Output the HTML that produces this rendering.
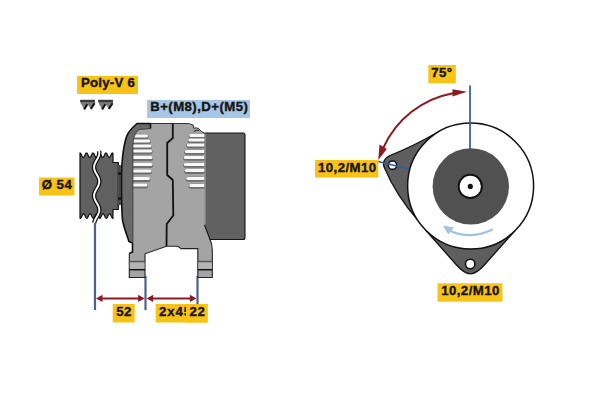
<!DOCTYPE html>
<html><head><meta charset="utf-8">
<style>
html,body{margin:0;padding:0;background:#fff;width:600px;height:400px;overflow:hidden}
svg{display:block}
text{font-family:"Liberation Sans",sans-serif;font-weight:bold;fill:#1a1410;stroke:#1a1410;stroke-width:0.4px;letter-spacing:0.45px}
</style></head><body>
<svg width="600" height="400" viewBox="0 0 600 400">
<!-- ========== LEFT: side view ========== -->
<!-- blue extension lines -->
<g stroke="#4a6290" stroke-width="2.2" fill="none">
<line x1="95" y1="216" x2="95" y2="310"/>
<line x1="145.5" y1="276" x2="145.5" y2="310"/>
<line x1="197.5" y1="276" x2="197.5" y2="304"/>
</g>
<!-- pulley -->
<path d="M80.0,152.9 L80.5,153.2 L81.0,153.9 L81.5,154.9 L82.0,156.0 L82.5,156.9 L83.0,157.4 L83.5,157.4 L84.0,156.9 L84.5,156.0 L85.0,154.9 L85.5,153.9 L86.0,153.2 L86.5,152.9 L87.0,153.2 L87.5,153.9 L88.0,154.9 L88.5,156.0 L89.0,156.9 L89.5,157.4 L90.0,157.4 L90.5,156.9 L91.0,156.0 L91.5,154.9 L92.0,153.9 L92.5,153.2 L93.0,152.9 L93.5,153.2 L94.0,153.9 L94.5,154.9 L95.0,156.0 L95.5,156.9 L96.0,157.4 L96.5,157.4 L97.0,156.9 L97.5,156.0 L98.0,154.9 L98.5,153.9 L99.0,153.2 L99.5,152.9 L100.0,153.2 L100.5,153.9 L101.0,154.9 L101.5,156.0 L102.0,156.9 L102.5,157.4 L103.0,157.4 L103.5,156.9 L104.0,156.0 L104.5,154.9 L105.0,153.9 L105.5,153.2 L106.0,152.9 L106.5,153.2 L107.0,153.9 L107.5,154.9 L108.0,156.0 L108.5,156.9 L109.0,157.4 L109.5,157.4 L110.0,156.9 L110.5,156.0 L111.0,154.9 L111.5,153.9 L112.0,153.2 L112.5,152.9 L113.0,153.2 L113,162.5 L118.3,162.5 L118.3,209.5 L113,209.5 L113,217 L113.0,218.3 L112.5,218.2 L112.0,217.6 L111.5,216.7 L111.0,215.6 L110.5,214.6 L110.0,213.9 L109.5,213.7 L109.0,214.0 L108.5,214.8 L108.0,215.8 L107.5,216.9 L107.0,217.8 L106.5,218.3 L106.0,218.2 L105.5,217.6 L105.0,216.7 L104.5,215.6 L104.0,214.6 L103.5,213.9 L103.0,213.7 L102.5,214.0 L102.0,214.8 L101.5,215.8 L101.0,216.9 L100.5,217.8 L100.0,218.3 L99.5,218.2 L99.0,217.6 L98.5,216.7 L98.0,215.6 L97.5,214.6 L97.0,213.9 L96.5,213.7 L96.0,214.0 L95.5,214.8 L95.0,215.8 L94.5,216.9 L94.0,217.8 L93.5,218.3 L93.0,218.2 L92.5,217.6 L92.0,216.7 L91.5,215.6 L91.0,214.6 L90.5,213.9 L90.0,213.7 L89.5,214.0 L89.0,214.8 L88.5,215.8 L88.0,216.9 L87.5,217.8 L87.0,218.3 L86.5,218.2 L86.0,217.6 L85.5,216.7 L85.0,215.6 L84.5,214.6 L84.0,213.9 L83.5,213.7 L83.0,214.0 L82.5,214.8 L82.0,215.8 L81.5,216.9 L81.0,217.8 L80.5,218.3 L80.0,218.2 Z" fill="#606060" stroke="#111" stroke-width="1.2" stroke-linejoin="round"/>
<!-- shaft -->
<rect x="118.3" y="165" width="3.2" height="40" fill="#656565"/>
<line x1="119.8" y1="165" x2="119.8" y2="205" stroke="#2a2a2a" stroke-width="0.8"/>
<rect x="118" y="172.5" width="3.6" height="2.2" fill="#111"/>
<rect x="118" y="197.5" width="3.6" height="2.2" fill="#111"/>
<!-- housing main light body -->
<path d="M138,123.5 L188.6,123.5 L193.2,125 L193.6,128.2 Q196.5,127.2 198.8,128.8 L201.8,131.8 L204.5,133 L204.5,225 L210,239.5 Q212.3,244 212.3,250 L212.3,277.5 L197.8,277.5 L197.8,248.6 L181,248.6 L178,246.2 L166.5,246.2 L145,253.8 L145,277.5 L129.3,277.5 L129.3,253.5 L132.5,252 L132.5,243 L128.8,241.5 L132.5,130 Z" fill="#a4a4a4"/>
<path d="M150,123.5 L188.6,123.5 L193.2,125 L193.6,128.2 Q196.5,127.2 198.8,128.8 L201.8,131.8 L204.5,133" fill="none" stroke="#333" stroke-width="1"/>
<path d="M193.8,131.5 Q196,129.5 199,130.5" fill="none" stroke="#222" stroke-width="1"/>
<!-- right edge outline -->
<path d="M210,239.5 Q212.3,244 212.3,250 L212.3,277.5 L197.8,277.5 L197.8,248.6 L181,248.6 L178,246.2 L166.5,246.2 L145,253.8 L145,277.5 L129.3,277.5 L129.3,253.5" fill="none" stroke="#222" stroke-width="1.1"/>
<!-- vent slots front -->
<rect x="131" y="134.4" width="17.5" height="5" rx="2.5" fill="#6e6e6e"/><rect x="132" y="134.6" width="16.0" height="3" rx="1.5" fill="#f8f8f8"/>
<rect x="131" y="139.4" width="19.5" height="5" rx="2.5" fill="#6e6e6e"/><rect x="132" y="139.6" width="18.0" height="3" rx="1.5" fill="#f8f8f8"/>
<rect x="131" y="144.4" width="21.0" height="5" rx="2.5" fill="#6e6e6e"/><rect x="132" y="144.6" width="19.5" height="3" rx="1.5" fill="#f8f8f8"/>
<rect x="131" y="149.4" width="21.5" height="5" rx="2.5" fill="#6e6e6e"/><rect x="132" y="149.6" width="20.0" height="3" rx="1.5" fill="#f8f8f8"/>
<rect x="131" y="155.9" width="22.0" height="5" rx="2.5" fill="#6e6e6e"/><rect x="132" y="156.1" width="20.5" height="3" rx="1.5" fill="#f8f8f8"/>
<rect x="131" y="162.9" width="22.0" height="5" rx="2.5" fill="#6e6e6e"/><rect x="132" y="163.1" width="20.5" height="3" rx="1.5" fill="#f8f8f8"/>
<rect x="131" y="169.4" width="21.0" height="5" rx="2.5" fill="#6e6e6e"/><rect x="132" y="169.6" width="19.5" height="3" rx="1.5" fill="#f8f8f8"/>
<rect x="131" y="176.9" width="19.5" height="5" rx="2.5" fill="#6e6e6e"/><rect x="132" y="177.1" width="18.0" height="3" rx="1.5" fill="#f8f8f8"/>
<rect x="131" y="183.4" width="17.0" height="5" rx="2.5" fill="#6e6e6e"/><rect x="132" y="183.6" width="15.5" height="3" rx="1.5" fill="#f8f8f8"/>
<!-- vent slots rear -->
<rect x="188.7" y="133.9" width="16.3" height="5" rx="2.5" fill="#6e6e6e"/><rect x="189.3" y="134.1" width="16.3" height="3" rx="1.5" fill="#f8f8f8"/>
<rect x="187.7" y="138.4" width="17.3" height="5" rx="2.5" fill="#6e6e6e"/><rect x="188.3" y="138.6" width="17.3" height="3" rx="1.5" fill="#f8f8f8"/>
<rect x="186.2" y="143.4" width="18.8" height="5" rx="2.5" fill="#6e6e6e"/><rect x="186.8" y="143.6" width="18.8" height="3" rx="1.5" fill="#f8f8f8"/>
<rect x="184.2" y="149.7" width="20.8" height="5" rx="2.5" fill="#6e6e6e"/><rect x="184.8" y="149.9" width="20.8" height="3" rx="1.5" fill="#f8f8f8"/>
<rect x="183.2" y="155.8" width="21.8" height="5" rx="2.5" fill="#6e6e6e"/><rect x="183.8" y="156.0" width="21.8" height="3" rx="1.5" fill="#f8f8f8"/>
<rect x="183.2" y="162.8" width="21.8" height="5" rx="2.5" fill="#6e6e6e"/><rect x="183.8" y="163.0" width="21.8" height="3" rx="1.5" fill="#f8f8f8"/>
<rect x="184.2" y="168.9" width="20.8" height="5" rx="2.5" fill="#6e6e6e"/><rect x="184.8" y="169.1" width="20.8" height="3" rx="1.5" fill="#f8f8f8"/>
<rect x="185.7" y="176.8" width="19.3" height="5" rx="2.5" fill="#6e6e6e"/><rect x="186.3" y="177.0" width="19.3" height="3" rx="1.5" fill="#f8f8f8"/>
<rect x="188.7" y="183.8" width="16.3" height="5" rx="2.5" fill="#6e6e6e"/><rect x="189.3" y="184.0" width="16.3" height="3" rx="1.5" fill="#f8f8f8"/>
<!-- front band -->
<path d="M137,123.5 L150.5,123.5 L150.5,128.5 L139,129.5 C135,133 133,138 132.9,146 L132.9,242 L128.8,241.5 L128.5,240 C126,233 123.5,226 122.5,220 C121.7,212 121.5,205 121.5,180 C121.5,165 122.5,156 123.5,150 C124.3,145 125.5,138 128,133.5 C129.5,131 132,128 137,123.5 Z" fill="#6a6a6a"/>
<path d="M150.5,128.5 L139,129.5 C135,133 133,138 132.9,146 L132.9,242" fill="none" stroke="#3a3a3a" stroke-width="0.9"/>
<path d="M150.5,123.5 L150.5,128.5 M150.5,123.5 L137,123.5 C132,128 129.5,131 128,133.5 C125.5,138 124.3,145 123.5,150 C122.5,156 121.5,165 121.5,180 C121.5,205 121.7,212 122.5,220 C123.5,226 126,233 128.5,240 L128.8,241.5 L132.5,243 L132.5,252 L129.3,253.5" fill="none" stroke="#111" stroke-width="1.6"/>
<!-- divider line -->
<path d="M172.8,123.5 L172.8,138 L167.2,143 L167.2,175 L172.8,180 L173.3,215.5 L166.7,224 L166.5,246" fill="none" stroke="#111" stroke-width="1.8"/>
<!-- rear cover -->
<path d="M204.5,133 L243,133 Q245,133 245,135 L245,237.5 Q245,239.5 243,239.5 L210,239.5 L204.5,225 Z" fill="#616161"/>
<path d="M204.5,133 L243,133 Q245,133 245,135 L245,237.5 Q245,239.5 243,239.5 L210,239.5 L204.5,225" fill="none" stroke="#151515" stroke-width="1.1"/>
<line x1="205.4" y1="134" x2="205.4" y2="224" stroke="#8c8c8c" stroke-width="0.9"/>
<!-- feet stripes -->
<g>
<rect x="129.8" y="262.5" width="14.7" height="6.5" fill="#b4b4b4"/>
<rect x="198.3" y="262.5" width="13.5" height="6.5" fill="#b4b4b4"/>
<line x1="129.3" y1="261.5" x2="145" y2="261.5" stroke="#555" stroke-width="1.4"/>
<line x1="197.8" y1="261.5" x2="212.3" y2="261.5" stroke="#555" stroke-width="1.4"/>
<line x1="129.3" y1="269.7" x2="145" y2="269.7" stroke="#111" stroke-width="1.5"/>
<line x1="197.8" y1="269.7" x2="212.3" y2="269.7" stroke="#111" stroke-width="1.5"/>
</g>
<!-- wavy break line on pulley -->
<path d="M99.05,151 L99.24,152 L99.30,153 L99.24,154 L99.05,155 L98.75,156 L98.35,157 L97.87,158 L97.34,159 L96.77,160 L96.20,161 L95.66,162 L95.16,163 L94.74,164 L94.41,165 L94.20,166 L94.10,167 L94.14,168 L94.29,169 L94.56,170 L94.94,171 L95.40,172 L95.92,173 L96.49,174 L97.06,175 L97.61,176 L98.12,177 L98.56,178 L98.91,179 L99.16,180 L99.28,181 L99.28,182 L99.16,183 L98.91,184 L98.56,185 L98.12,186 L97.61,187 L97.06,188 L96.49,189 L95.92,190 L95.40,191 L94.94,192 L94.56,193 L94.29,194 L94.14,195 L94.10,196 L94.20,197 L94.41,198 L94.74,199 L95.16,200 L95.66,201 L96.20,202 L96.77,203 L97.34,204 L97.87,205 L98.35,206 L98.75,207 L99.05,208 L99.24,209 L99.30,210 L99.24,211 L99.05,212 L98.75,213 L98.35,214 L97.87,215 L97.34,216 L96.77,217 L96.20,218 L95.66,219 L95.16,220 L94.74,221 L94.41,222 L94.20,223" fill="none" stroke="#111" stroke-width="4.4" stroke-linejoin="round"/>
<path d="M99.05,151 L99.24,152 L99.30,153 L99.24,154 L99.05,155 L98.75,156 L98.35,157 L97.87,158 L97.34,159 L96.77,160 L96.20,161 L95.66,162 L95.16,163 L94.74,164 L94.41,165 L94.20,166 L94.10,167 L94.14,168 L94.29,169 L94.56,170 L94.94,171 L95.40,172 L95.92,173 L96.49,174 L97.06,175 L97.61,176 L98.12,177 L98.56,178 L98.91,179 L99.16,180 L99.28,181 L99.28,182 L99.16,183 L98.91,184 L98.56,185 L98.12,186 L97.61,187 L97.06,188 L96.49,189 L95.92,190 L95.40,191 L94.94,192 L94.56,193 L94.29,194 L94.14,195 L94.10,196 L94.20,197 L94.41,198 L94.74,199 L95.16,200 L95.66,201 L96.20,202 L96.77,203 L97.34,204 L97.87,205 L98.35,206 L98.75,207 L99.05,208 L99.24,209 L99.30,210 L99.24,211 L99.05,212 L98.75,213 L98.35,214 L97.87,215 L97.34,216 L96.77,217 L96.20,218 L95.66,219 L95.16,220 L94.74,221 L94.41,222 L94.20,223" fill="none" stroke="#fff" stroke-width="1.9" stroke-linejoin="round"/>
<!-- dimension arrows -->
<g stroke="#8b1a22" stroke-width="2" fill="#8b1a22">
<line x1="100" y1="298.4" x2="140" y2="298.4"/>
<line x1="151" y1="298.4" x2="192" y2="298.4"/>
<path d="M96,298.4 L102.5,294.8 L102.5,302 Z" stroke="none"/>
<path d="M144.6,298.4 L138.1,294.8 L138.1,302 Z" stroke="none"/>
<path d="M146.6,298.4 L153.1,294.8 L153.1,302 Z" stroke="none"/>
<path d="M196.4,298.4 L189.9,294.8 L189.9,302 Z" stroke="none"/>
</g>
<!-- labels left -->
<rect x="77" y="76" width="61" height="18" fill="#f6c316"/>
<text x="81" y="87.2" font-size="13.2" style="letter-spacing:0.25px">Poly-V 6</text>
<rect x="147" y="100" width="103" height="18" fill="#a6c7e8"/>
<text x="150.2" y="111.1" font-size="13.2">B+(M8),D+(M5)</text>
<rect x="39" y="177.5" width="35.5" height="18" fill="#f6c316"/>
<text x="41.8" y="188.8" font-size="13.2">Ø 54</text>
<rect x="112.7" y="304" width="22" height="18.5" fill="#f6c316"/>
<text x="116.3" y="316.3" font-size="13.2">52</text>
<rect x="155.7" y="304" width="52" height="18.5" fill="#f6c316"/>
<text x="159" y="316.3" font-size="13.2" style="letter-spacing:0.9px">2x45</text>
<rect x="186" y="304" width="21.5" height="18.5" fill="#f6c316"/>
<text x="189.6" y="316.3" font-size="13.2">22</text>
<!-- groove symbol -->
<path d="M80.3,100 L95.0,100 L95.0,103 L90.8,109 L87.8,104.5 L84.2,109.5 L80.3,102.5 Z" fill="#7a7a7a"/><rect x="80.3" y="99.8" width="14.7" height="2.3" fill="#3a3a3a"/><path d="M84.2,109.5 L87.3,104.3 M90.8,109 L94.6,103.3" stroke="#111" stroke-width="2" fill="none"/>
<path d="M98.3,100 L113.0,100 L113.0,103 L108.8,109 L105.8,104.5 L102.2,109.5 L98.3,102.5 Z" fill="#7a7a7a"/><rect x="98.3" y="99.8" width="14.7" height="2.3" fill="#3a3a3a"/><path d="M102.2,109.5 L105.3,104.3 M108.8,109 L112.6,103.3" stroke="#111" stroke-width="2" fill="none"/>

<!-- ========== RIGHT: front view ========== -->
<!-- lugs -->
<path d="M438.5,131.8 Q412,147 390,155.5 C383.5,158.5 382,164 385,169 Q396,195 417.6,220 L470.6,186 Z" fill="#5e5e5e" stroke="#111" stroke-width="1.3" stroke-linejoin="round"/>
<path d="M426,230.5 L456.5,265 Q464.2,273.8 470.4,273.8 Q476.6,273.8 484.3,265 L515.2,230.5 L470.6,186 Z" fill="#5e5e5e" stroke="#111" stroke-width="1.3" stroke-linejoin="round"/>
<!-- big circle -->
<circle cx="470.6" cy="186" r="63" fill="#fff" stroke="#111" stroke-width="1.5"/>
<!-- dark disk -->
<circle cx="470.8" cy="186.4" r="38.2" fill="#515151"/>
<circle cx="470.3" cy="186.4" r="11.6" fill="#fff" stroke="#111" stroke-width="2"/>
<circle cx="470.3" cy="186.4" r="2.6" fill="#111"/>
<!-- holes -->
<circle cx="392.5" cy="165.2" r="4.2" fill="#fff" stroke="#111" stroke-width="1.6"/>
<circle cx="470.2" cy="264" r="4.7" fill="#fff" stroke="#111" stroke-width="1.6"/>
<!-- blue lines -->
<g stroke="#2f5b9c" stroke-width="1.7" fill="none">
<line x1="470" y1="85.5" x2="470" y2="149"/>
<line x1="378" y1="161.5" x2="409" y2="169"/>
</g>
<!-- light blue rotation arrow -->
<path d="M492,229.8 Q470,240 450.5,231" fill="none" stroke="#a0c3df" stroke-width="2.3" stroke-linecap="round"/>
<path d="M443,225.5 L454,227.5 L448.3,234.5 Z" fill="#a0c3df"/>
<!-- red 75deg arc -->
<path d="M383.5,147.5 A95 95 0 0 1 453,93.2" fill="none" stroke="#8b1a22" stroke-width="2"/>
<path d="M467,91.8 L452.5,89.2 L452.5,96.6 Z" fill="#8b1a22"/>
<path d="M378.3,160 L379.5,144.5 L386.8,149 Z" fill="#8b1a22"/>
<!-- labels right -->
<rect x="428.3" y="65" width="27.5" height="18.3" fill="#f6c316"/>
<text x="431.3" y="77" font-size="13.2">75°</text>
<rect x="315" y="160" width="63.3" height="17.5" fill="#f6c316"/>
<text x="318" y="171.8" font-size="13.2">10,2/M10</text>
<rect x="437.5" y="283.3" width="65" height="18.4" fill="#f6c316"/>
<text x="441.2" y="295" font-size="13.2">10,2/M10</text>
</svg>
</body></html>
